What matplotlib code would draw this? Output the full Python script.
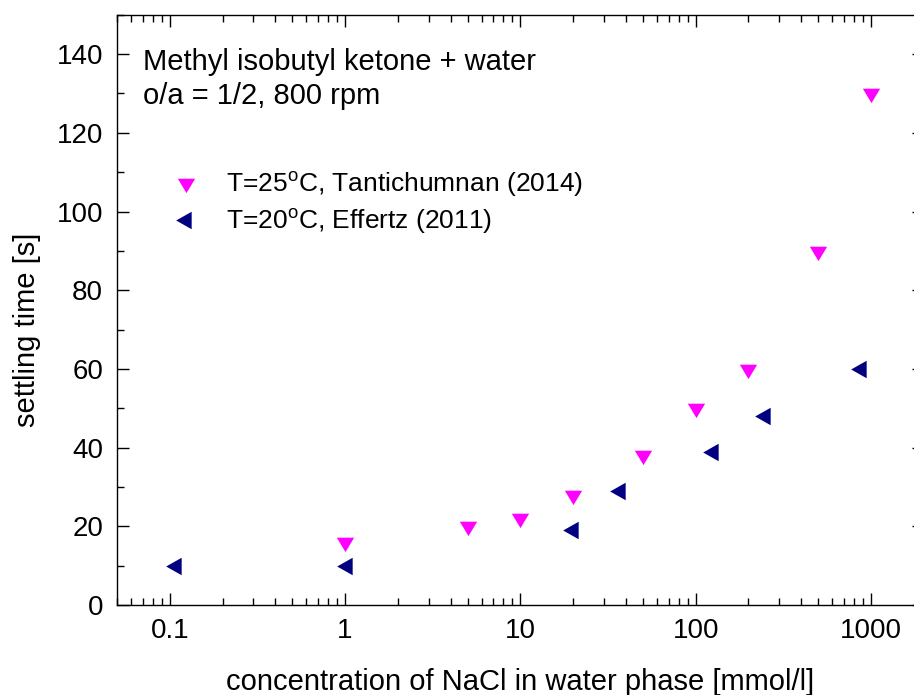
import matplotlib
matplotlib.use("Agg")
import matplotlib.pyplot as plt
from matplotlib.ticker import LogLocator, MultipleLocator, FixedLocator, FixedFormatter, NullFormatter

plt.rcParams['font.family'] = ['Liberation Sans', 'DejaVu Sans']
plt.rcParams['mathtext.fontset'] = 'custom'
plt.rcParams['mathtext.rm'] = 'Liberation Sans'
plt.rcParams['mathtext.it'] = 'Liberation Sans:italic'

# Tantichumnan (2014), T = 25 C
conc_25 = [1, 5, 10, 20, 50, 100, 200, 500, 1000]
time_25 = [16, 20, 22, 28, 38, 50, 60, 90, 130]

# Effertz (2011), T = 20 C
conc_20 = [0.108, 1.02, 20, 37, 125, 250, 875]
time_20 = [10, 10, 19, 29, 39, 48, 60]

xticks = [0.1, 1, 10, 100, 1000]
xticklabels = ["0.1", "1", "10", "100", "1000"]

# triangles centred on their centroid
down_tri = [(-8.65, 4.8), (8.65, 4.8), (0, -9.6), (-8.65, 4.8)]
left_tri = [(5.17, 8.75), (5.17, -8.75), (-10.33, 0), (5.17, 8.75)]

W, H = 914, 695
fig = plt.figure(figsize=(W / 100, H / 100), dpi=100)
ax = fig.add_axes([117 / W, 90 / H, 806.8 / W, 590.2 / H])

ax.plot(conc_25, time_25, linestyle="none", marker=down_tri, ms=2 * 9.6 * 0.72,
        color="#FF00FF", mec="#FF00FF", mew=0,
        label=r"T=25$^{\mathrm{o}}$C, Tantichumnan (2014)")
ax.plot(conc_20, time_20, linestyle="none", marker=left_tri, ms=2 * 10.33 * 0.72,
        color="#000080", mec="#000080", mew=0,
        label=r"T=20$^{\mathrm{o}}$C, Effertz (2011)")

ax.set_xscale("log")
ax.set_xlim(0.05, 2000)
ax.set_ylim(0, 150)

ax.xaxis.set_major_locator(FixedLocator(xticks))
ax.xaxis.set_major_formatter(FixedFormatter(xticklabels))
ax.xaxis.set_minor_locator(LogLocator(base=10, subs=range(2, 10)))
ax.xaxis.set_minor_formatter(NullFormatter())
ax.yaxis.set_major_locator(MultipleLocator(20))
ax.yaxis.set_minor_locator(MultipleLocator(10))

for s in ax.spines.values():
    s.set_linewidth(1.0)
ax.tick_params(which="both", direction="in", top=True, right=True, width=1.0)
ax.tick_params(which="major", length=8.3, labelsize=20)
ax.tick_params(which="minor", length=4.7)
ax.tick_params(axis="x", which="major", pad=9)
ax.tick_params(axis="y", which="major", pad=10)

ax.set_xlabel("concentration of NaCl in water phase [mmol/l]", fontsize=21)
ax.xaxis.label.set_va("baseline")
ax.xaxis.set_label_coords(0.5, (605 - 690) / 590.2)
ax.set_ylabel("settling time [s]", fontsize=21)
ax.yaxis.label.set_va("baseline")
ax.yaxis.set_label_coords((35 - 117) / 806.8, (605 - 330) / 590.2)

ax.text(143 / W, 1 - 70 / H, "Methyl isobutyl ketone + water",
        transform=fig.transFigure, fontsize=21, va="baseline", ha="left")
ax.text(143 / W, 1 - 104.5 / H, "o/a = 1/2, 800 rpm",
        transform=fig.transFigure, fontsize=21, va="baseline", ha="left")

ax.legend(loc="upper left", bbox_to_anchor=(0.056, 0.755), frameon=False,
          fontsize=19, handlelength=1.0, handletextpad=1.0, labelspacing=0.32,
          borderaxespad=0)

fig.savefig("out.png", dpi=100)
